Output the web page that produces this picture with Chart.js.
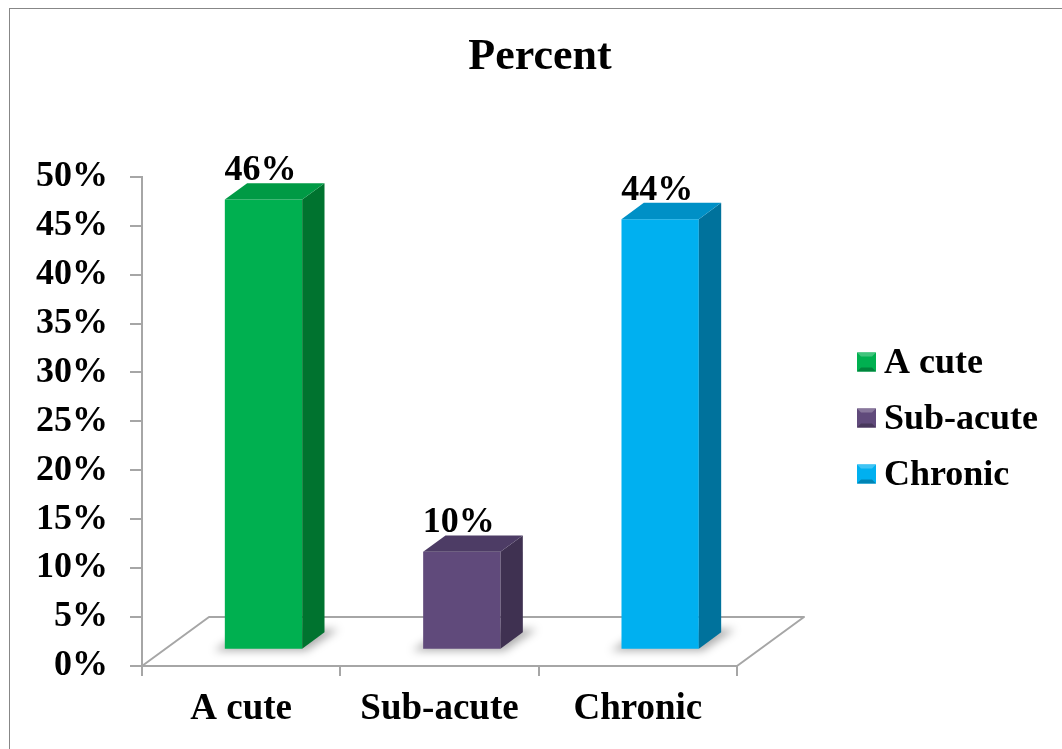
<!DOCTYPE html>
<html>
<head>
<meta charset="utf-8">
<title>Percent</title>
<script src="https://cdn.jsdelivr.net/npm/chart.js@4/dist/chart.umd.min.js"></script>
<style>
  html, body { margin: 0; padding: 0; background: #ffffff; }
  #wrap { width: 1062px; height: 749px; position: relative; }
</style>
</head>
<body>
<div id="wrap"><canvas id="chart" width="1062" height="749"></canvas></div>
<script>
// ---- data ----
const categories = ['A cute', 'Sub-acute', 'Chronic'];
const percentValues = [46, 10, 44];
const yTickStep = 5;
const yMax = 50;

// ---- colours (front, right side, top of each column) ----
const frontColors = ['#00B050', '#604A7B', '#00B0F0'];
const sideColors  = ['#00732F', '#3F3151', '#00729C'];
const topColors   = ['#009A45', '#4D3C65', '#0090C6'];

const SERIF = "'Liberation Serif', 'Times New Roman', serif";
const AXIS_GRAY = '#a6a6a6';

// depth of the 3-D floor (pixels) and where the columns sit inside it
const FLOOR_DX = 67, FLOOR_DY = -49;
const BAR_NEAR = 1 / 3, BAR_FAR = 2 / 3;
const OFF_X = FLOOR_DX * BAR_NEAR, OFF_Y = FLOOR_DY * BAR_NEAR;
const DEP_X = FLOOR_DX * (BAR_FAR - BAR_NEAR), DEP_Y = FLOOR_DY * (BAR_FAR - BAR_NEAR);

// legend block on the right
const LEGEND_X = 857, LEGEND_Y0 = 362, LEGEND_STEP = 56, LEGEND_BOX = 19, LEGEND_GAP = 8;

function barGeom(bar) {
  const p = bar.getProps(['x', 'y', 'base', 'width'], true);
  return {
    x1: p.x - p.width / 2 + OFF_X,
    x2: p.x + p.width / 2 + OFF_X,
    top: p.y + OFF_Y,
    bottom: p.base + OFF_Y
  };
}

function shade(hex, amt) {
  const n = parseInt(hex.slice(1), 16);
  const f = c => Math.max(0, Math.min(255, Math.round(amt >= 0 ? c + (255 - c) * amt : c * (1 + amt))));
  const r = f(n >> 16), g = f((n >> 8) & 255), b = f(n & 255);
  return 'rgb(' + r + ',' + g + ',' + b + ')';
}

const columns3d = {
  id: 'columns3d',
  beforeDraw(chart) {
    const ctx = chart.ctx;
    ctx.save();
    ctx.strokeStyle = '#878787';
    ctx.lineWidth = 1;
    ctx.strokeRect(9.5, 8.5, 1080, 780);
    ctx.restore();
  },
  beforeDatasetsDraw(chart) {
    const { ctx, chartArea: { left, right, bottom } } = chart;
    // floor
    ctx.save();
    ctx.strokeStyle = AXIS_GRAY;
    ctx.lineWidth = 2;
    ctx.lineJoin = 'round';
    ctx.beginPath();
    ctx.moveTo(left, bottom);
    ctx.lineTo(left + FLOOR_DX, bottom + FLOOR_DY);
    ctx.lineTo(right + FLOOR_DX, bottom + FLOOR_DY);
    ctx.lineTo(right, bottom);
    ctx.stroke();
    ctx.restore();
    // soft shadows under the columns
    ctx.save();
    ctx.filter = 'blur(4px)';
    ctx.fillStyle = 'rgba(0,0,0,0.32)';
    chart.getDatasetMeta(0).data.forEach(bar => {
      const g = barGeom(bar);
      ctx.beginPath();
      ctx.moveTo(g.x1 - 11, g.bottom + 2);
      ctx.lineTo(g.x2 + 4, g.bottom + 2);
      ctx.lineTo(g.x2 + DEP_X + 14, g.bottom + DEP_Y - 3);
      ctx.lineTo(g.x1 + DEP_X, g.bottom + DEP_Y - 3);
      ctx.closePath();
      ctx.fill();
    });
    ctx.restore();
  },
  beforeDatasetDraw(chart) {
    chart.ctx.save();
    chart.ctx.translate(OFF_X, OFF_Y);
  },
  afterDatasetDraw(chart) {
    chart.ctx.restore();
  },
  afterDatasetsDraw(chart) {
    const ctx = chart.ctx;
    const ds = chart.data.datasets[0];
    chart.getDatasetMeta(0).data.forEach((bar, i) => {
      const g = barGeom(bar);
      ctx.save();
      // right side face
      ctx.fillStyle = sideColors[i];
      ctx.beginPath();
      ctx.moveTo(g.x2, g.top);
      ctx.lineTo(g.x2 + DEP_X, g.top + DEP_Y);
      ctx.lineTo(g.x2 + DEP_X, g.bottom + DEP_Y);
      ctx.lineTo(g.x2, g.bottom);
      ctx.closePath();
      ctx.fill();
      // top face
      ctx.fillStyle = topColors[i];
      ctx.beginPath();
      ctx.moveTo(g.x1, g.top);
      ctx.lineTo(g.x1 + DEP_X, g.top + DEP_Y);
      ctx.lineTo(g.x2 + DEP_X, g.top + DEP_Y);
      ctx.lineTo(g.x2, g.top);
      ctx.closePath();
      ctx.fill();
      // value label
      ctx.fillStyle = '#000000';
      ctx.font = 'bold 36px ' + SERIF;
      ctx.textAlign = 'center';
      ctx.textBaseline = 'alphabetic';
      ctx.fillText(ds.data[i] + '%', (g.x1 + g.x2) / 2 - 3, g.top + DEP_Y - 3);
      ctx.restore();
    });
  },
  afterDraw(chart) {
    // legend: one bevelled swatch per category
    const ctx = chart.ctx;
    ctx.save();
    categories.forEach((name, i) => {
      const cy = LEGEND_Y0 + i * LEGEND_STEP;
      const x = LEGEND_X, y = cy - LEGEND_BOX / 2, s = LEGEND_BOX, b = 4;
      ctx.fillStyle = frontColors[i];
      ctx.fillRect(x, y, s, s);
      ctx.fillStyle = shade(frontColors[i], 0.25);
      ctx.beginPath();
      ctx.moveTo(x, y); ctx.lineTo(x + s, y); ctx.lineTo(x + s - b, y + b); ctx.lineTo(x + b, y + b);
      ctx.closePath(); ctx.fill();
      ctx.fillStyle = shade(frontColors[i], -0.25);
      ctx.beginPath();
      ctx.moveTo(x, y + s); ctx.lineTo(x + s, y + s); ctx.lineTo(x + s - b, y + s - b); ctx.lineTo(x + b, y + s - b);
      ctx.closePath(); ctx.fill();
      ctx.fillStyle = '#000000';
      ctx.font = 'bold 36px ' + SERIF;
      ctx.textAlign = 'left';
      ctx.textBaseline = 'alphabetic';
      ctx.fillText(name, x + s + LEGEND_GAP, cy + 11);
    });
    ctx.restore();
  }
};

Chart.defaults.font.family = SERIF;
Chart.defaults.color = '#000000';

new Chart(document.getElementById('chart'), {
  type: 'bar',
  data: {
    labels: categories,
    datasets: [{
      label: 'Percent',
      data: percentValues,
      backgroundColor: frontColors,
      borderWidth: 0,
      categoryPercentage: 1,
      barPercentage: 0.39,
      yAxisID: 'y',
      clip: false
    }]
  },
  options: {
    responsive: false,
    animation: false,
    devicePixelRatio: 1,
    layout: { padding: { left: 18, right: 0, top: 0, bottom: 0 } },
    plugins: {
      title: {
        display: true,
        text: 'Percent',
        color: '#000000',
        font: { size: 44, weight: 'bold', family: SERIF },
        padding: { top: 31, bottom: 93 }
      },
      legend: { display: false },
      tooltip: { enabled: false }
    },
    scales: {
      x: {
        grid: { display: true, drawOnChartArea: false, drawTicks: true, tickLength: 10, color: AXIS_GRAY, lineWidth: 2 },
        border: { display: true, color: AXIS_GRAY, width: 2 },
        ticks: { padding: 11, color: '#000000', font: { size: 37, weight: 'bold', family: SERIF } },
        afterFit(s) { s.height = 83; }
      },
      y: {
        min: 0,
        max: yMax,
        grid: { display: true, drawOnChartArea: false, drawTicks: true, tickLength: 12, color: AXIS_GRAY, lineWidth: 2 },
        border: { display: true, color: AXIS_GRAY, width: 2 },
        ticks: {
          stepSize: yTickStep,
          padding: 22,
          color: '#000000',
          font: { size: 36, weight: 'bold', family: SERIF },
          callback: v => v + '%'
        },
        afterFit(s) { s.width = 124; }
      },
      gap: {
        position: 'right',
        display: true,
        grid: { display: false },
        border: { display: false },
        ticks: { display: false },
        afterFit(s) { s.width = 325; }
      }
    }
  },
  plugins: [columns3d]
});
</script>
</body>
</html>
